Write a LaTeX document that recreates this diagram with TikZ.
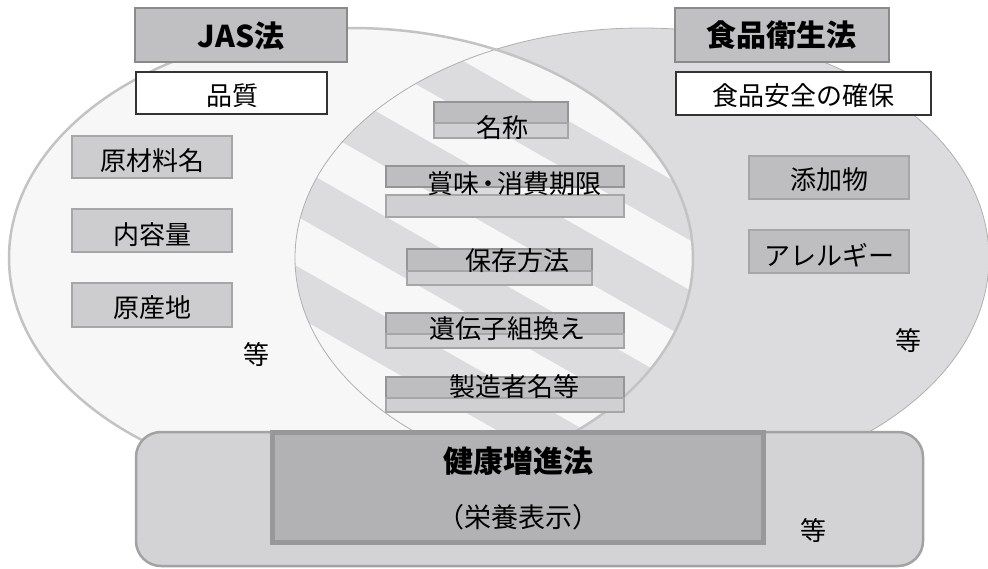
\documentclass[tikz,border=0pt]{standalone}
\usepackage{fontspec}
\newfontfamily\jp{Noto Sans CJK JP}
\definecolor{ellR}{HTML}{DCDCDE}
\definecolor{ellL}{HTML}{F7F7F7}
\definecolor{lineL}{HTML}{C3C3C3}
\definecolor{lineR}{HTML}{B0B0B0}
\definecolor{ttlFill}{HTML}{C0C0C2}
\definecolor{ttlLine}{HTML}{8A8A8A}
\definecolor{itemL}{HTML}{CDCDCF}
\definecolor{itemR}{HTML}{BEBEC0}
\definecolor{itemLine}{HTML}{A6A6A6}
\definecolor{upFill}{HTML}{BEBEC0}
\definecolor{loFill}{HTML}{D0D0D2}
\definecolor{outerFill}{HTML}{D3D3D5}
\definecolor{outerLine}{HTML}{A2A2A2}
\definecolor{innerFill}{HTML}{B2B2B4}
\definecolor{innerLine}{HTML}{98989A}
\newcommand\pbx[6]{\node[#6, minimum width={(#4)-(#2)}, minimum height={(#5)-(#3)}] (#1) at ({((#2)+(#4))/2},{((#3)+(#5))/2}) {};}
\begin{document}
\begin{tikzpicture}[x=1pt,y=-1pt,
  every node/.style={inner sep=0pt, outer sep=0pt},
  txt/.style={font=\jp\fontsize{26}{30}\selectfont, text=black},
  ttl/.style={font=\jp\bfseries\fontsize{30}{34}\selectfont, text=black},
  ttlbox/.style={draw=ttlLine, line width=2.5pt, fill=ttlFill},
  subbox/.style={draw=black!80, line width=1.3pt, fill=white},
  itemboxL/.style={draw=itemLine, line width=1.5pt, fill=itemL},
  itemboxR/.style={draw=itemLine, line width=1.5pt, fill=itemR},
  upbox/.style={draw=itemLine!90!black, line width=1.5pt, fill=upFill},
  lobox/.style={draw=itemLine, line width=1.5pt, fill=loFill},
  outerbox/.style={draw=outerLine, line width=2.5pt, fill=outerFill, rounded corners=25pt},
  innerbox/.style={draw=innerLine, line width=5pt, fill=innerFill},
  stripe/.style={fill=ellR}
]
\useasboundingbox (0,0) rectangle (988,568);
\fill[white] (0,0) rectangle (988,568);

% ellipses
\fill[ellR] (642,258) ellipse [x radius=347pt, y radius=230pt];
\fill[ellL] (351,258) ellipse [x radius=342pt, y radius=230pt];
\begin{scope}
  \clip (351,258) ellipse [x radius=342pt, y radius=230pt];
  \clip (642,258) ellipse [x radius=347pt, y radius=230pt];
  \foreach \k in {-5,...,4} {
    \fill[stripe] (250,{225+100*\k-85.5}) -- (750,{225+100*\k+199.5})
       -- (750,{275+100*\k+199.5}) -- (250,{275+100*\k-85.5}) -- cycle;
  }
\end{scope}
\draw[lineR, line width=0.8pt] (642,258) ellipse [x radius=347pt, y radius=230pt];
\draw[lineL, line width=2.5pt] (351,258) ellipse [x radius=342pt, y radius=230pt];

% titles
\pbx{jas}{135}{8}{347}{62}{ttlbox}
\node[ttl] (tjas) at (241,36) {JAS法};
\pbx{shoku}{675}{8}{889}{62}{ttlbox}
\node[ttl] (tshoku) at (781,35) {食品衛生法};
\pbx{hinshitsu}{136}{72}{327}{114}{subbox}
\node[txt] (thinshitsu) at (232,96) {品質};
\pbx{anzen}{676}{72}{931}{115}{subbox}
\node[txt] (tanzen) at (803,96) {食品安全の確保};

% left items
\pbx{genzai}{72}{136}{232}{178}{itemboxL}
\node[txt] (tgenzai) at (152,161) {原材料名};
\pbx{naiyo}{72}{209}{232}{252}{itemboxL}
\node[txt] (tnaiyo) at (152,235) {内容量};
\pbx{gensan}{72}{283}{232}{327}{itemboxL}
\node[txt] (tgensan) at (152,308) {原産地};
\node[txt] (tetcL) at (256,355) {等};

% right items
\pbx{tenka}{749}{156}{909}{199}{itemboxR}
\node[txt] (ttenka) at (829,180) {添加物};
\pbx{allergy}{749}{230}{909}{273}{itemboxR}
\node[txt] (tallergy) at (829,255) {アレルギー};
\node[txt] (tetcR) at (908,341) {等};

% center items
\pbx{meiu}{434}{102}{568}{123}{upbox}
\pbx{meil}{434}{123}{568}{138}{lobox}
\node[txt] (tmei) at (502,128) {名称};
\pbx{shomiu}{386}{166}{624}{187}{upbox}
\pbx{shomil}{386}{195}{624}{217}{lobox}
\node[txt] (tshomi) at (514,184) {賞味\kern-4pt・\kern-4pt消費期限};
\pbx{hozonu}{407}{249}{592}{271}{upbox}
\pbx{hozonl}{407}{271}{592}{285}{lobox}
\node[txt] (thozon) at (517,261) {保存方法};
\pbx{idenu}{386}{313}{624}{334}{upbox}
\pbx{idenl}{386}{334}{624}{348}{lobox}
\node[txt] (tiden) at (507,329) {遺伝子組換え};
\pbx{seizou}{386}{377}{624}{398}{upbox}
\pbx{seizol}{386}{398}{624}{412}{lobox}
\node[txt] (tseizo) at (514,387) {製造者名等};

% bottom
\pbx{outer}{136}{432}{923}{566}{outerbox}
\pbx{inner}{272}{432}{763}{542}{innerbox}
\node[ttl] (tkenko) at (518,461) {健康増進法};
\node[txt, font=\jp\fontsize{27}{30}\selectfont] (teiyo) at (518,517) {（栄養表示）};
\node[txt] (tetcB) at (813,531) {等};
\end{tikzpicture}
\end{document}
